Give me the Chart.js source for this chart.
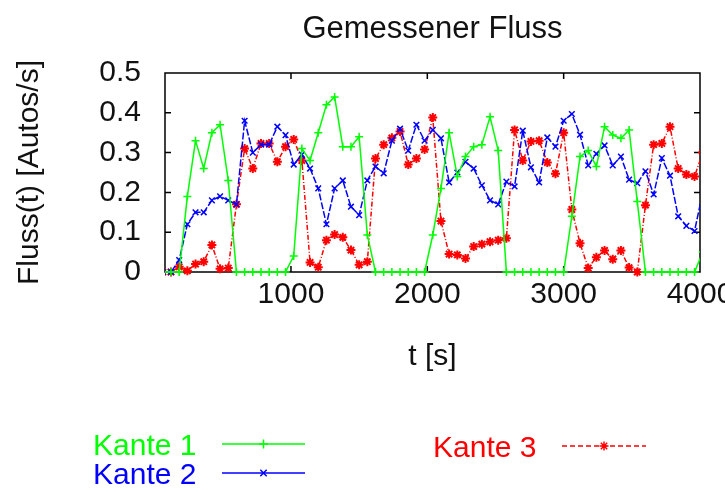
<!DOCTYPE html>
<html lang="de">
<head>
<meta charset="UTF-8">
<title>Gemessener Fluss</title>
<script src="https://cdn.jsdelivr.net/npm/chart.js"></script>
<style>
    html, body { margin: 0; padding: 0; background: #fff; }
</style>
</head>
<body>
<canvas id="chart" width="725" height="492"></canvas>

<script>
// Messzeitpunkte in s
const zeit = [60, 120, 180, 240, 300, 360, 420, 480, 540, 600, 660, 720, 780, 840, 900, 960, 1020,
    1080, 1140, 1200, 1260, 1320, 1380, 1440, 1500, 1560, 1620, 1680, 1740, 1800, 1860, 1920, 1980,
    2040, 2100, 2160, 2220, 2280, 2340, 2400, 2460, 2520, 2580, 2640, 2700, 2760, 2820, 2880, 2940,
    3000, 3060, 3120, 3180, 3240, 3300, 3360, 3420, 3480, 3540, 3600, 3660, 3720, 3780, 3840, 3900,
    3960, 4020];

// Fluss je Kante in Autos/s
const kante1 = [0, 0, 0, 0.19, 0.33, 0.26, 0.35, 0.37, 0.23, 0,
    0, 0, 0, 0, 0, 0, 0.04, 0.31, 0.28, 0.35,
    0.42, 0.44, 0.315, 0.315, 0.34, 0.093, 0, 0, 0, 0,
    0, 0, 0, 0.093, 0.21, 0.35, 0.24, 0.29, 0.315, 0.32,
    0.39, 0.305, 0, 0, 0, 0, 0, 0, 0, 0,
    0.14, 0.29, 0.305, 0.265, 0.365, 0.344, 0.336, 0.357, 0.177, 0,
    0, 0, 0, 0, 0, 0, 0.05];

const kante2 = [0, 0, 0.03, 0.12, 0.15, 0.15, 0.18, 0.19, 0.18, 0.17,
    0.38, 0.30, 0.32, 0.32, 0.365, 0.344, 0.27, 0.295, 0.26, 0.21,
    0.12, 0.21, 0.23, 0.164, 0.143, 0.23, 0.265, 0.248, 0.33, 0.36,
    0.305, 0.37, 0.33, 0.357, 0.336, 0.225, 0.25, 0.277, 0.26, 0.218,
    0.18, 0.17, 0.227, 0.215, 0.355, 0.263, 0.225, 0.338, 0.315, 0.38,
    0.397, 0.345, 0.268, 0.297, 0.318, 0.268, 0.29, 0.232, 0.223, 0.253,
    0.195, 0.286, 0.242, 0.14, 0.116, 0.103, 0.2];

const kante3 = [0, 0, 0.013, 0.003, 0.02, 0.026, 0.068, 0.008, 0.01, 0.17,
    0.31, 0.26, 0.323, 0.323, 0.277, 0.315, 0.333, 0.28, 0.024, 0.012,
    0.08, 0.094, 0.087, 0.055, 0.018, 0.026, 0.285, 0.32, 0.337, 0.353,
    0.27, 0.285, 0.308, 0.388, 0.128, 0.045, 0.043, 0.034, 0.064, 0.07,
    0.076, 0.08, 0.085, 0.357, 0.28, 0.328, 0.33, 0.275, 0.247, 0.35,
    0.157, 0.072, 0.01, 0.037, 0.054, 0.032, 0.054, 0.011, 0, 0.168,
    0.32, 0.323, 0.365, 0.26, 0.245, 0.24, 0.3];

const xTicks = [1000, 2000, 3000, 4000];
const yTicks = [0, 0.1, 0.2, 0.3, 0.4, 0.5];

const SCHRIFT = "'Liberation Sans', Arial, Helvetica, sans-serif";
Chart.defaults.font.family = SCHRIFT;
Chart.defaults.color = '#000';

function punkte(werte) {
    return zeit.map((t, i) => ({ x: t, y: werte[i] }));
}

// Rahmen und Teilstriche wie bei gnuplot (nach innen, gespiegelt)
const rahmen = {
    id: 'rahmen',
    beforeDatasetsDraw(chart) {
        const { ctx, chartArea: a, scales: { x, y } } = chart;
        ctx.save();
        ctx.strokeStyle = '#000';
        ctx.lineWidth = 1.5;
        ctx.strokeRect(a.left, a.top, a.right - a.left, a.bottom - a.top);
        ctx.beginPath();
        xTicks.forEach(v => {
            const px = x.getPixelForValue(v);
            if (px < a.right - 2) {
                ctx.moveTo(px, a.bottom); ctx.lineTo(px, a.bottom - 6);
                ctx.moveTo(px, a.top); ctx.lineTo(px, a.top + 6);
            }
        });
        yTicks.forEach(v => {
            const py = y.getPixelForValue(v);
            if (py > a.top + 2 && py < a.bottom - 2) {
                ctx.moveTo(a.left, py); ctx.lineTo(a.left + 6, py);
                ctx.moveTo(a.right, py); ctx.lineTo(a.right - 6, py);
            }
        });
        ctx.stroke();
        ctx.restore();
    }
};

// Titel und Legende (Text links, Linienmuster rechts)
const beschriftung = {
    id: 'beschriftung',
    afterDraw(chart) {
        const { ctx, chartArea: a } = chart;
        ctx.save();
        ctx.font = '31px ' + SCHRIFT;
        ctx.fillStyle = '#111';
        ctx.textAlign = 'center';
        ctx.textBaseline = 'middle';
        ctx.fillText('Gemessener Fluss', (a.left + a.right) / 2, 29);

        const eintraege = [
            { text: 'Kante 1', farbe: '#00ff00', tx: 93, ty: 455, x1: 222, x2: 305, dash: [], stil: 'cross' },
            { text: 'Kante 2', farbe: '#0000ff', tx: 93, ty: 484, x1: 222, x2: 305, dash: [], stil: 'crossRot' },
            { text: 'Kante 3', farbe: '#ff0000', tx: 433, ty: 457, x1: 562, x2: 646, dash: [5, 3], stil: 'star' }
        ];
        ctx.font = '30px ' + SCHRIFT;
        ctx.textAlign = 'left';
        ctx.textBaseline = 'alphabetic';
        eintraege.forEach(e => {
            ctx.fillStyle = e.farbe;
            ctx.strokeStyle = e.farbe;
            ctx.fillText(e.text, e.tx, e.ty);
            const ly = e.ty - 11;
            ctx.lineWidth = 1.5;
            ctx.setLineDash(e.dash);
            ctx.beginPath();
            ctx.moveTo(e.x1, ly);
            ctx.lineTo(e.x2, ly);
            ctx.stroke();
            ctx.setLineDash([]);
            Chart.helpers.drawPoint(ctx, { pointStyle: e.stil, radius: 4.5, rotation: 0, borderWidth: 1.5 },
                (e.x1 + e.x2) / 2, ly);
        });
        ctx.restore();
    }
};

const gemeinsam = {
    fill: false,
    tension: 0,
    borderWidth: 1.5,
    pointRadius: 4,
    pointBorderWidth: 1.5,
    clip: { left: 0, top: 6, right: 0, bottom: 6 }
};

new Chart(document.getElementById('chart'), {
    type: 'line',
    data: {
        datasets: [
            Object.assign({
                label: 'Kante 1', data: punkte(kante1),
                borderColor: '#00ff00', backgroundColor: '#00ff00', pointStyle: 'cross'
            }, gemeinsam),
            Object.assign({
                label: 'Kante 2', data: punkte(kante2),
                borderColor: '#0000ff', backgroundColor: '#0000ff', pointStyle: 'crossRot',
                borderDash: [7, 2]
            }, gemeinsam),
            Object.assign({
                label: 'Kante 3', data: punkte(kante3),
                borderColor: '#ff0000', backgroundColor: '#ff0000', pointStyle: 'star',
                borderDash: [5, 2, 1, 2]
            }, gemeinsam, { pointBorderWidth: 2, pointRadius: 4.5 })
        ]
    },
    options: {
        responsive: false,
        animation: false,
        layout: { padding: { top: 73, right: 25, bottom: 117, left: 0 } },
        plugins: {
            legend: { display: false },
            title: { display: false },
            tooltip: { enabled: false }
        },
        scales: {
            x: {
                type: 'linear',
                min: 76,
                max: 4000,
                grid: { display: false, drawTicks: false },
                border: { display: false },
                afterBuildTicks: s => { s.ticks = xTicks.map(v => ({ value: v })); },
                afterFit: s => { s.height = 103; s.paddingLeft = 0; s.paddingRight = 0; },
                ticks: {
                    font: { size: 30 }, color: '#111', padding: 5,
                    maxRotation: 0, autoSkip: false, callback: v => String(v)
                },
                title: {
                    display: true, text: 't [s]', color: '#111',
                    font: { size: 30 }, padding: { top: 0, bottom: 0 }
                }
            },
            y: {
                min: 0,
                max: 0.5,
                grid: { display: false, drawTicks: false },
                border: { display: false },
                afterBuildTicks: s => { s.ticks = yTicks.map(v => ({ value: v })); },
                afterFit: s => { s.width = 165; s.paddingTop = 0; s.paddingBottom = 0; },
                ticks: { font: { size: 30 }, color: '#111', padding: 24, callback: v => String(v) },
                title: {
                    display: true, text: 'Fluss(t) [Autos/s]', color: '#111',
                    font: { size: 30 }, padding: { top: 12, bottom: 0 }
                }
            }
        }
    },
    plugins: [rahmen, beschriftung]
});
</script>
</body>
</html>
